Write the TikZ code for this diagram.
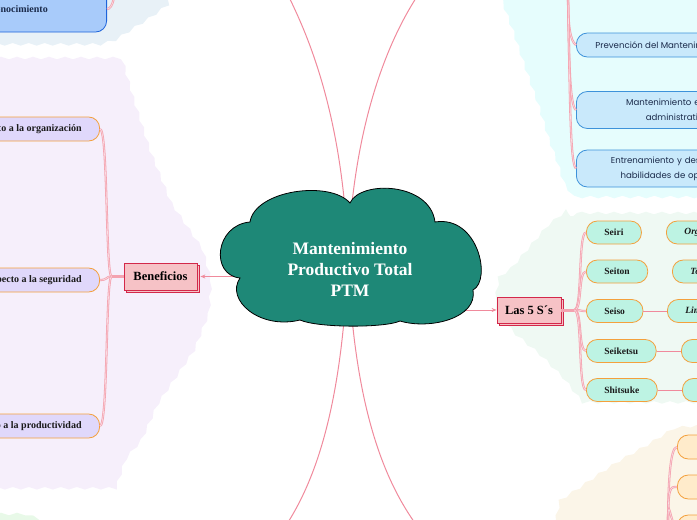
\documentclass[tikz,border=0pt]{standalone}
\usepackage{fontspec}
\setmainfont{Liberation Serif}
\newfontfamily\roundsans{Poppins}
\usetikzlibrary{shadows,decorations.pathmorphing,arrows.meta}

\definecolor{cloudteal}{HTML}{1E8877}
\definecolor{linkpink}{HTML}{F08A9C}
\definecolor{bundlepink}{HTML}{F4A3B0}
\definecolor{bundlelight}{HTML}{FBDDE2}
\definecolor{bgtopblue}{HTML}{E8F1F7}
\definecolor{bglav}{HTML}{F6EFFB}
\definecolor{bgcyan}{HTML}{E6FDFD}
\definecolor{bgmint}{HTML}{EFF9F3}
\definecolor{bgcream}{HTML}{FBF5E8}
\definecolor{bggreen}{HTML}{E8F9E8}
\definecolor{lavfill}{HTML}{E0D8FB}
\definecolor{orangeline}{HTML}{F4A03C}
\definecolor{mintfill}{HTML}{BDF3E3}
\definecolor{bluefill}{HTML}{C9E9FB}
\definecolor{blueline}{HTML}{3D92DA}
\definecolor{topfill}{HTML}{A8CBFA}
\definecolor{topline}{HTML}{1C63DB}
\definecolor{creamfill}{HTML}{FFEBCB}
\definecolor{pinkfill}{HTML}{F6C2C6}
\definecolor{crimson}{HTML}{D3284A}
\definecolor{navytext}{HTML}{1B2B4B}
\definecolor{inktext}{HTML}{1A1A1A}

\begin{document}
\begin{tikzpicture}[x=1pt, y=-1pt,
    link/.style={draw=linkpink, line width=1pt},
    bundle/.style={draw=bundlepink, double=bundlelight, double distance=0.6pt, line width=0.8pt},
    knot/.style={draw=bundlepink, line width=3pt},
    wavy/.style={decorate, decoration={snake, segment length=16pt, amplitude=1.3pt}},
    pill/.style={rounded corners=11pt, minimum height=24pt, line width=0.8pt, inner xsep=18pt,
      text=inktext, font=\bfseries\fontsize{10}{12}\selectfont},
    lavbox/.style={pill, fill=lavfill, draw=orangeline},
    mintbox/.style={pill, fill=mintfill, draw=orangeline, minimum height=23pt, font=\bfseries\fontsize{9.5}{11}\selectfont},
    sidebox/.style={mintbox, font=\bfseries\itshape\fontsize{9.5}{11}\selectfont, anchor=west},
    creambox/.style={pill, fill=creamfill, draw=orangeline, anchor=west, minimum width=120pt},
    bluebox/.style={pill, fill=bluefill, draw=blueline, anchor=west, text=navytext,
      font=\roundsans\fontsize{8.6}{15}\selectfont, align=center},
    topbox/.style={pill, fill=topfill, draw=topline, text=navytext},
    mainbox/.style={rectangle, fill=pinkfill, draw=crimson, line width=0.8pt,
      copy shadow={shadow xshift=2pt, shadow yshift=-2pt}, text=black,
      font=\bfseries\fontsize{12.5}{14}\selectfont}
  ]
\useasboundingbox (0,0) rectangle (697,520);
\clip (0,0) rectangle (697,520);

% background areas
\fill[bgtopblue, wavy] (-20,-20) -- (168,-20) -- (166,0) -- (148,13) -- (132,23) -- (112,36) -- (95,41) -- (-20,41) -- cycle;
\fill[bglav, wavy] (-20,58) -- (115,58) -- (127,100) -- (143,150) -- (163,200) -- (197,250) -- (205,280)
  -- (203,310) -- (187,350) -- (153,400) -- (135,440) -- (118,460) -- (108,490) -- (-20,490) -- cycle;
\fill[bgcyan, wavy] (500,-20) -- (502,0) -- (513,30) -- (523,60) -- (537,100) -- (547,133) -- (555,155)
  -- (563,180) -- (572,193) -- (720,193) -- (720,-20) -- cycle;
\fill[bgmint, wavy] (577,213) -- (720,213) -- (720,410) -- (575,410) -- (557,387) -- (537,367) -- (513,347)
  -- (497,330) -- (492,310) -- (495,290) -- (513,277) -- (530,257) -- (547,237) -- cycle;
\fill[bgcream, wavy] (720,425) -- (720,540) -- (552,540) -- (560,500) -- (580,487) -- (600,473) -- (620,460)
  -- (643,447) -- (670,430) -- cycle;
\fill[bggreen, wavy] (-20,514) -- (25,514) -- (42,520) -- (45,540) -- (-20,540) -- cycle;

\coordinate (ctr) at (348,257);

% left branch
\node[mainbox, minimum width=73pt, minimum height=27pt] (benef) at (160.5,276.5) {Beneficios};
\node[lavbox, anchor=east] (org) at (100,129) {Con respecto a la organización};
\node[lavbox, anchor=east] (seg) at (100,280) {Con respecto a la seguridad};
\node[lavbox, anchor=east] (prod) at (100,426) {Con respecto a la productividad};
\draw[knot] (benef.west) -- ++(-12,0) coordinate (bj);
\draw[bundle] (bj) .. controls +(-6,0) and +(8,0) .. (org.east);
\draw[bundle] (bj) .. controls +(-6,0) and +(8,0) .. (seg.east);
\draw[bundle] (bj) .. controls +(-6,0) and +(8,0) .. (prod.east);

% top left
\node[topbox, anchor=east, minimum height=46pt, text width=150pt, align=center] (recon) at (107,9) {Reconocimiento};
\coordinate (tl) at (116,-30);
\draw[bundle] (tl) .. controls +(0,25) and +(6,0) .. (recon.east);

% top right
\node[bluebox, inner xsep=19pt] (prev) at (576,45) {Prevención del Mantenimiento};
\node[bluebox, inner xsep=8pt, minimum height=37pt, text width=190pt] (mant) at (576,110) {Mantenimiento en áreas\\administrativas};
\node[bluebox, inner xsep=8pt, minimum height=37pt, text width=184pt] (entr) at (576,168.5) {Entrenamiento y desarrollo de\\habilidades de operación};
\coordinate (tr) at (568,-5);
\draw[bundle] (tr) .. controls +(0,30) and +(-6,-4) .. (prev.west);
\draw[bundle] (tr) .. controls +(1,70) and +(-6,-4) .. (mant.west);
\draw[bundle] (tr) .. controls +(2,100) and +(-6,-4) .. (entr.west);

% 5 S
\node[mainbox, minimum width=64pt, minimum height=26pt] (cinco) at (529,310) {Las 5 S´s};
\node[mintbox, anchor=west] (seiri) at (586,232.5) {Seiri};
\node[mintbox, anchor=west] (seiton) at (586,271.5) {Seiton};
\node[mintbox, anchor=west] (seiso) at (586,311) {Seiso};
\node[mintbox, anchor=west] (seiketsu) at (586,351) {Seiketsu};
\node[mintbox, anchor=west] (shitsuke) at (586,390) {Shitsuke};
\draw[knot] (cinco.east) -- ++(13,0) coordinate (sj);
\foreach \s in {seiri,seiton,seiso,seiketsu,shitsuke}
  \draw[bundle] (sj) .. controls +(8,0) and +(-8,0) .. (\s.west);

\node[sidebox] (orga) at (666,232.5) {Organización};
\node[sidebox] (orden) at (672,271.5) {Todo en orden};
\node[sidebox] (limp) at (667,311) {Limpieza};
\node[sidebox] (estd) at (681,351) {Estandarización};
\node[sidebox] (disc) at (682,390) {Disciplina};
\draw[link] (seiso) -- (limp);
\draw[link] (seiketsu) -- (estd);
\draw[link] (shitsuke) -- (disc);

% bottom right
\node[creambox] (c1) at (677,447) {Reducción};
\node[creambox] (c2) at (677,487) {Reducción};
\node[creambox] (c3) at (677,527) {Reducción};
\coordinate (br) at (668,530);
\foreach \c in {c1,c2,c3}
  \draw[bundle] (br) .. controls +(0,-45) and +(-7,0) .. (\c.west);

% main links
\coordinate (upl) at (288,-5);
\coordinate (upr) at (418,-5);
\coordinate (dnl) at (283,530);
\coordinate (dnr) at (420,530);
\draw[link] (ctr) .. controls (343,110) and (305,30) .. (upl);
\draw[link] (ctr) .. controls (354,110) and (395,30) .. (upr);
\draw[link] (ctr) .. controls (342,420) and (310,490) .. (dnl);
\draw[link] (ctr) .. controls (354,420) and (390,490) .. (dnr);
\draw[link, -{Stealth[length=5pt,width=4pt]}] (ctr |- benef.east) -- ([xshift=3pt]benef.east);
\draw[link, -{Stealth[length=5pt,width=4pt]}] (ctr |- cinco.west) -- (cinco.west);

% centre
\draw[fill=cloudteal, line width=0.8pt] (250,222) .. controls (255,190) and (330,180) .. (350,203)
  .. controls (360,180) and (430,182) .. (435,222)
  .. controls (478,215) and (492,280) .. (473,290)
  .. controls (478,318) and (430,330) .. (400,321)
  .. controls (385,328) and (318,328) .. (300,320)
  .. controls (260,330) and (225,300) .. (240,278)
  .. controls (210,275) and (215,225) .. (250,222) -- cycle;
\node[text=white, align=center, font=\bfseries\fontsize{17.5}{21}\selectfont] (ptm) at (350,269)
  {Mantenimiento\\Productivo Total\\PTM};
\end{tikzpicture}
\end{document}
